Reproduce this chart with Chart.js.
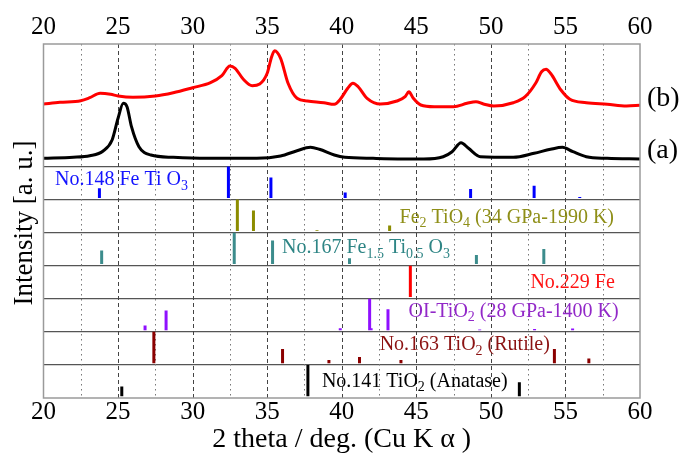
<!DOCTYPE html>
<html>
<head>
<meta charset="utf-8">
<script src="https://cdn.jsdelivr.net/npm/chart.js@4"></script>
<style>
html, body { margin: 0; padding: 0; background: #fff; }
canvas { display: block; }
</style>
</head>
<body>
<canvas id="c" width="682" height="456"></canvas>
<script>
// measured XRD patterns (top panel), intensity in a.u. above the panel floor
const curveBx = [20.0, 21.1, 22.5, 23.1, 23.8, 24.5, 25.0, 26.0, 27.5, 28.7, 30.0, 31.2, 31.96, 32.5, 32.85, 33.4, 34.0, 34.5, 35.0, 35.3, 35.5, 35.9, 36.4, 37.0, 37.7, 38.8, 39.5, 39.9, 40.4, 40.75, 41.1, 41.7, 42.6, 43.7, 44.25, 44.5, 44.8, 45.3, 46.2, 47.5, 48.4, 49.0, 49.5, 50.2, 51.5, 52.3, 53.0, 53.4, 53.7, 54.0, 54.7, 55.3, 56.4, 57.8, 59.1, 60.0];
const curveBy = [62.5, 64.2, 65.8, 68.8, 73.2, 72.2, 70.5, 69.2, 70.5, 73.8, 78.8, 83.8, 90.8, 100.5, 98.2, 87.2, 80.8, 82.5, 93.2, 109.8, 115.8, 108.2, 83.2, 68.2, 65.5, 63.8, 62.2, 67.2, 78.2, 83.2, 79.8, 68.2, 62.5, 65.5, 69.8, 74.8, 68.2, 61.5, 59.8, 59.8, 63.2, 64.8, 62.5, 60.5, 63.8, 69.8, 83.2, 94.8, 97.2, 93.2, 76.5, 67.2, 63.8, 62.2, 60.5, 61.2];
const curveAx = [20.0, 22.0, 23.1, 24.0, 24.6, 25.0, 25.35, 25.6, 25.9, 26.4, 27.2, 28.7, 31.0, 34.3, 35.9, 37.0, 37.9, 38.5, 39.5, 40.2, 42.1, 45.5, 46.8, 47.4, 48.0, 48.5, 49.3, 51.5, 52.9, 54.0, 54.8, 55.5, 56.4, 57.8, 60.0];
const curveAy = [8.2, 9.2, 10.8, 15.5, 26.5, 48.2, 63.2, 59.8, 39.8, 19.8, 11.5, 9.2, 8.2, 8.2, 10.5, 15.8, 19.2, 17.2, 11.5, 9.2, 8.2, 7.5, 9.8, 14.8, 23.8, 18.2, 9.8, 9.2, 13.2, 17.2, 19.2, 14.8, 9.8, 8.2, 7.5];

// reference patterns, relative intensity 0..1
const ilmX = [23.75, 32.4, 35.25, 40.23, 48.64, 52.9, 55.96];
const ilmI = [0.31, 1.0, 0.65, 0.17, 0.28, 0.39, 0.03];
const fe2X = [33.0, 34.08, 38.34, 43.21];
const fe2I = [1.0, 0.65, 0.02, 0.17];
const fe15X = [23.9, 32.79, 35.36, 40.52, 49.03, 53.55];
const fe15I = [0.43, 1.0, 0.75, 0.18, 0.29, 0.48];
const feX = [44.6];
const feI = [1.0];
const oiX = [26.81, 28.22, 39.9, 41.87, 41.97, 43.1, 49.25, 52.93, 55.48];
const oiI = [0.15, 0.63, 0.06, 1.0, 0.06, 0.67, 0.02, 0.04, 0.05];
const rutX = [27.4, 36.03, 39.14, 41.19, 43.97, 54.26, 56.57];
const rutI = [1.0, 0.45, 0.1, 0.2, 0.1, 0.45, 0.15];
const anaX = [25.25, 37.73, 51.91];
const anaI = [0.31, 1.0, 0.45];

const gridX = [22.5, 25, 27.5, 30, 32.5, 35, 37.5, 40, 42.5, 45, 47.5, 50, 52.5, 55, 57.5];

const PANEL = 33.07;
const TOP_BASE = 7 * PANEL;
const Y_MAX = 354;
const FONT = "'Liberation Serif', 'Times New Roman', serif";
const Y_TITLE = 'Intensity [a. u.]';

// stick panels from bottom (0) to top (6)
const phases = [
  { x: anaX,  i: anaI,  color: '#000000', text: '#000000', lx: 38.67, ly: 0.49,
    label: [['No.141 TiO', 0], ['2', 1], [' (Anatase)', 0]] },
  { x: rutX,  i: rutI,  color: '#8b0000', text: '#8b1212', lx: 42.54, ly: 0.6,
    label: [['No.163 TiO', 0], ['2', 1], [' (Rutile)', 0]] },
  { x: oiX,   i: oiI,   color: '#8f10ff', text: '#9228c8', lx: 44.48, ly: 0.61,
    label: [['OI-TiO', 0], ['2', 1], [' (28 GPa-1400 K)', 0]] },
  { x: feX,   i: feI,   color: '#ff0000', text: '#ff1414', lx: 52.65, ly: 0.5,
    label: [['No.229 Fe', 0]] },
  { x: fe15X, i: fe15I, color: '#3c8c8c', text: '#2e8585', lx: 35.99, ly: 0.53,
    label: [['No.167 Fe', 0], ['1.5', 1], [' Ti', 0], ['0.5', 1], [' O', 0], ['3', 1]] },
  { x: fe2X,  i: fe2I,  color: '#8c8c00', text: '#8f8f18', lx: 43.88, ly: 0.45,
    label: [['Fe', 0], ['2', 1], [' TiO', 0], ['4', 1], [' (34 GPa-1990 K)', 0]] },
  { x: ilmX,  i: ilmI,  color: '#0000ff', text: '#1414ff', lx: 20.77, ly: 0.59,
    label: [['No.148 Fe Ti O', 0], ['3', 1]] }
];

const curveLabels = [['(b)', 68], ['(a)', 15.8]];

const datasets = [];
phases.forEach((p, k) => {
  const base = k * PANEL + 1.7;
  const span = PANEL - 1.7;
  const pts = [];
  p.x.forEach((v, j) => {
    pts.push({ x: v, y: base }, { x: v, y: base + p.i[j] * span }, { x: v, y: null });
  });
  datasets.push({ data: pts, borderColor: p.color, borderWidth: 3, borderCapStyle: 'butt', spanGaps: false, pointRadius: 0 });
});
datasets.push({
  data: curveBx.map((v, j) => ({ x: v, y: TOP_BASE + curveBy[j] })),
  borderColor: '#ff0000', borderWidth: 3, cubicInterpolationMode: 'monotone', pointRadius: 0
});
datasets.push({
  data: curveAx.map((v, j) => ({ x: v, y: TOP_BASE + curveAy[j] })),
  borderColor: '#000000', borderWidth: 3, cubicInterpolationMode: 'monotone', pointRadius: 0
});

function drawRich(ctx, segs, x, y, color) {
  ctx.fillStyle = color;
  ctx.textBaseline = 'middle';
  ctx.textAlign = 'left';
  for (const [t, sub] of segs) {
    ctx.font = (sub ? '14px ' : '20px ') + FONT;
    ctx.fillText(t, x, sub ? y + 6 : y);
    x += ctx.measureText(t).width;
  }
}

const panelDeco = {
  id: 'panelDeco',
  beforeDatasetsDraw(chart) {
    const { ctx, chartArea: a, scales: { x } } = chart;
    ctx.save();
    ctx.lineWidth = 1;
    for (const v of gridX) {
      const px = Math.round(x.getPixelForValue(v)) + 0.5;
      const major = v % 5 === 0;
      ctx.strokeStyle = major ? '#444' : '#777';
      ctx.setLineDash(major ? [4, 3] : [1.5, 3.5]);
      ctx.beginPath();
      ctx.moveTo(px, a.top);
      ctx.lineTo(px, a.bottom);
      ctx.stroke();
    }
    ctx.restore();
  },
  afterDatasetsDraw(chart) {
    const { ctx, chartArea: a, scales: { x, y } } = chart;
    ctx.save();
    ctx.strokeStyle = '#9a9a9a';
    ctx.lineWidth = 1.5;
    ctx.strokeRect(a.left, a.top, a.right - a.left, a.bottom - a.top);
    phases.forEach((p, k) => {
      drawRich(ctx, p.label, x.getPixelForValue(p.lx), y.getPixelForValue((k + p.ly) * PANEL), p.text);
    });
    ctx.font = '28px ' + FONT;
    ctx.fillStyle = '#000';
    ctx.textBaseline = 'middle';
    for (const [t, v] of curveLabels) {
      ctx.fillText(t, a.right + 7, y.getPixelForValue(TOP_BASE + v));
    }
    // y axis title
    ctx.translate(25, 223);
    ctx.rotate(-Math.PI / 2);
    ctx.font = '27px ' + FONT;
    ctx.textAlign = 'center';
    ctx.fillText(Y_TITLE, 0, 0);
    ctx.restore();
  }
};

const tickFont = { family: FONT, size: 25 };

new Chart(document.getElementById('c'), {
  type: 'line',
  data: { datasets },
  options: {
    responsive: false,
    animation: false,
    devicePixelRatio: 1,
    layout: { padding: { left: 0, right: 42, top: 0, bottom: 0 } },
    plugins: { legend: { display: false }, tooltip: { enabled: false } },
    elements: { point: { radius: 0 }, line: { tension: 0 } },
    scales: {
      x: {
        type: 'linear', position: 'bottom', min: 20, max: 60,
        afterFit: s => { s.height = 58; },
        ticks: { stepSize: 5, font: tickFont, color: '#000', padding: -1, maxRotation: 0, autoSkip: false },
        grid: { display: false, drawTicks: false },
        border: { display: false },
        title: { display: true, text: '2 theta / deg. (Cu K α )', color: '#000', font: { family: FONT, size: 28 }, padding: { top: 0, bottom: 0 } }
      },
      x2: {
        type: 'linear', position: 'top', min: 20, max: 60,
        afterFit: s => { s.height = 44; },
        ticks: { stepSize: 5, font: tickFont, color: '#000', padding: 2, maxRotation: 0, autoSkip: false },
        grid: { display: false, drawTicks: false },
        border: { display: false }
      },
      y: {
        type: 'linear', position: 'left', min: 0, max: Y_MAX,
        afterFit: s => { s.width = 43.5; },
        afterBuildTicks: s => { s.ticks = [1, 2, 3, 4, 5, 6, 7].map(k => ({ value: k * PANEL })); },
        ticks: { display: false },
        grid: { color: '#555', lineWidth: 1.2, drawTicks: false },
        border: { display: false }
      }
    }
  },
  plugins: [panelDeco]
});
</script>
</body>
</html>
